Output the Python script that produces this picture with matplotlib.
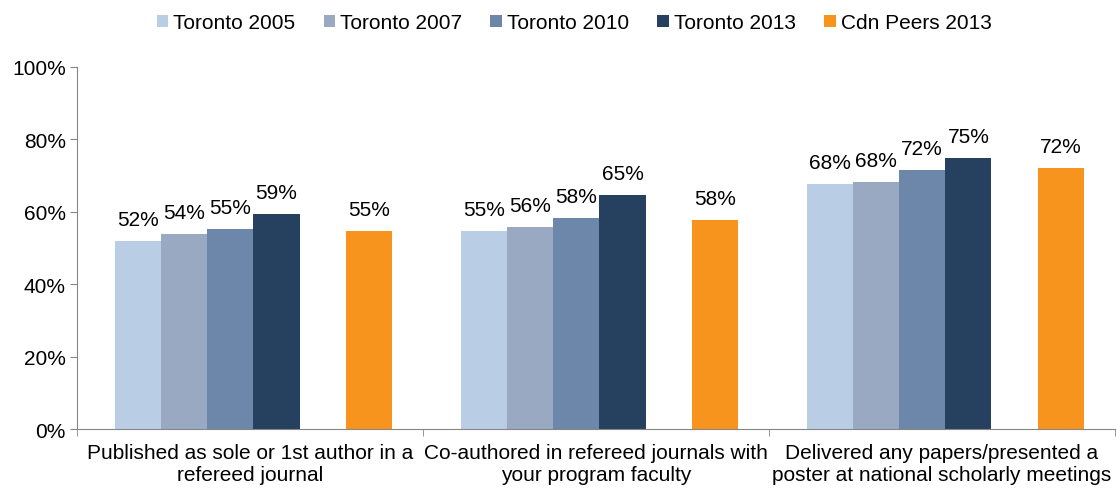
import matplotlib.pyplot as plt
import numpy as np

plt.rcParams['font.family'] = ['Liberation Sans', 'DejaVu Sans']

categories = [
    "Published as sole or 1st author in a\nrefereed journal",
    "Co-authored in refereed journals with\nyour program faculty",
    "Delivered any papers/presented a\nposter at national scholarly meetings",
]
series_names = ["Toronto 2005", "Toronto 2007", "Toronto 2010", "Toronto 2013", "Cdn Peers 2013"]
toronto_2005 = [51.9, 54.7, 67.7]
toronto_2007 = [53.9, 55.8, 68.2]
toronto_2010 = [55.2, 58.3, 71.5]
toronto_2013 = [59.4, 64.6, 74.9]
cdn_peers_2013 = [54.7, 57.7, 72.1]
values = [toronto_2005, toronto_2007, toronto_2010, toronto_2013, cdn_peers_2013]
colors = ['#b9cde5', '#98a9c1', '#6c87a9', '#26405f', '#f7941e']

fig, ax = plt.subplots(figsize=(11.17, 4.89), dpi=100)
fig.subplots_adjust(left=0.069, right=0.998, bottom=0.12, top=0.861)

x = np.arange(len(categories))
slot = 0.1334
slots = [0, 1, 2, 3, 5]  # gap before the peers bar
for s, name, vals, c in zip(slots, series_names, values, colors):
    xs = x + (s - 2.5) * slot + 0.01
    bars = ax.bar(xs, vals, width=slot, color=c, label=name)
    for b, v in zip(bars, vals):
        ax.text(b.get_x() + b.get_width() / 2, v + 3.3, f"{v:.0f}%",
                ha='center', va='bottom', fontsize=15)

ax.set_xlim(-0.5, 2.5)
ax.set_ylim(0, 100)
ax.set_yticks(np.arange(0, 101, 20))
ax.set_yticklabels([f"{t}%" for t in range(0, 101, 20)], fontsize=15)
ax.set_xticks(x)
ax.set_xticklabels(categories, fontsize=15)
ax.tick_params(axis='x', which='major', length=0, pad=10)
ax.set_xticks([-0.5, 0.5, 1.5, 2.5], minor=True)
ax.tick_params(axis='x', which='minor', length=5, color='#868686')
ax.tick_params(axis='y', length=5, color='#868686', pad=3)

for side in ['top', 'right']:
    ax.spines[side].set_visible(False)
for side in ['left', 'bottom']:
    ax.spines[side].set_color('#868686')

ax.legend(loc='upper center', bbox_to_anchor=(0.479, 1.20), ncol=5, frameon=False,
          fontsize=15, handlelength=0.55, handleheight=0.55, handletextpad=0.25,
          columnspacing=1.35)

fig.savefig("out.png")
